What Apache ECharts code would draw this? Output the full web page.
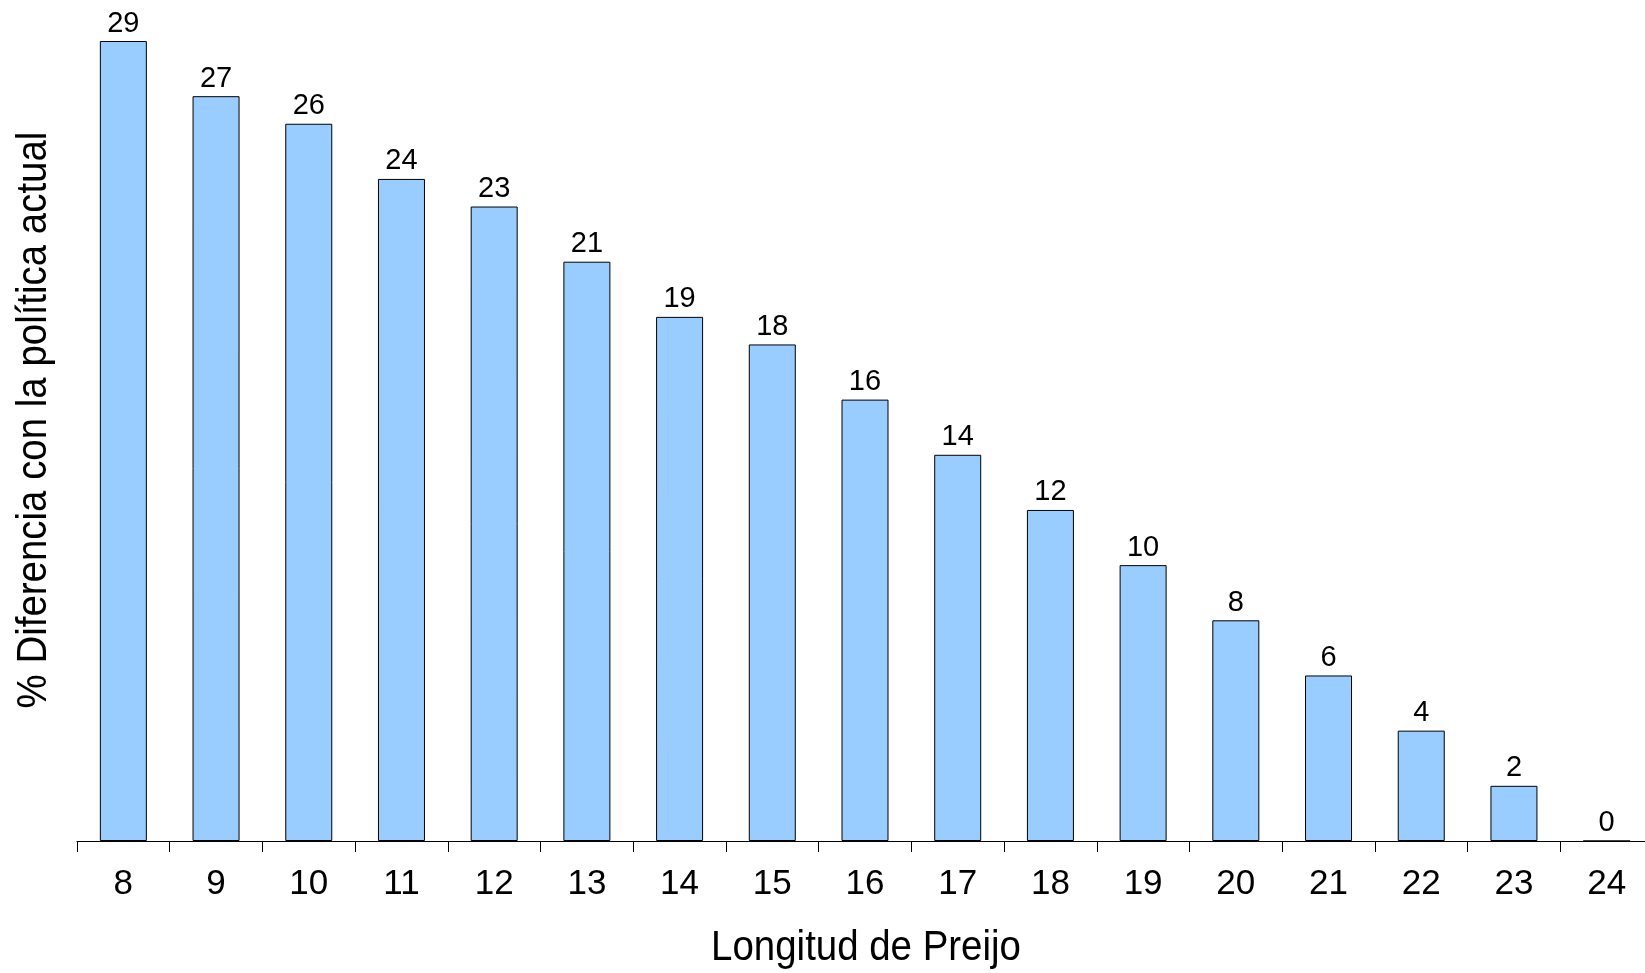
<!DOCTYPE html>
<html>
<head>
<meta charset="utf-8">
<script src="https://cdn.jsdelivr.net/npm/echarts@6/dist/echarts.min.js"></script>
<style>
  html, body { margin: 0; padding: 0; background: #fff; overflow: hidden; }
  /* the drawing surface is a few pixels wider than the page so the last bar sits near the edge */
  #chart { width: 1653px; height: 973px; }
</style>
</head>
<body>
<div id="chart"></div>
<script>
// Prefix length categories and the % difference against the current policy
const categories = ['8', '9', '10', '11', '12', '13', '14', '15', '16', '17', '18', '19', '20', '21', '22', '23', '24'];
const values = [29, 27, 26, 24, 23, 21, 19, 18, 16, 14, 12, 10, 8, 6, 4, 2, 0];
const yTitle = '% Diferencia con la política actual';
const xTitle = 'Longitud de Preijo';

const FONT = '"Liberation Sans", Arial, sans-serif';
// titles are set in a slightly condensed face
const TITLE_SQUEEZE = 0.915;

const chart = echarts.init(document.getElementById('chart'), null, { renderer: 'canvas' });

chart.setOption({
  backgroundColor: '#ffffff',
  animation: false,
  grid: { left: 77, right: 0, top: 41, height: 800, containLabel: false },
  xAxis: {
    type: 'category',
    data: categories,
    boundaryGap: true,
    axisLine: { show: true, lineStyle: { color: '#000', width: 1.2 } },
    axisTick: { show: true, length: 11, alignWithLabel: false, lineStyle: { color: '#000', width: 1 } },
    axisLabel: { color: '#000', fontFamily: FONT, fontSize: 35, margin: 26 }
  },
  yAxis: {
    type: 'value',
    min: 0,
    max: 29,
    show: false,
    splitLine: { show: false }
  },
  graphic: [
    {
      type: 'text',
      x: 34, y: 420,
      rotation: Math.PI / 2,
      scaleX: TITLE_SQUEEZE,
      style: {
        text: yTitle, fill: '#000', font: '42px ' + FONT,
        textAlign: 'center', textVerticalAlign: 'middle'
      }
    },
    {
      type: 'text',
      x: 866, y: 948,
      scaleX: TITLE_SQUEEZE,
      style: {
        text: xTitle, fill: '#000', font: '42px ' + FONT,
        textAlign: 'center', textVerticalAlign: 'middle'
      }
    }
  ],
  series: [{
    type: 'bar',
    data: values,
    barWidth: 47,
    itemStyle: { color: '#99ccff', borderColor: '#000', borderWidth: 1 },
    label: {
      show: true, position: 'top', distance: 3,
      color: '#000', fontFamily: FONT, fontSize: 29
    }
  }]
});
</script>
</body>
</html>
